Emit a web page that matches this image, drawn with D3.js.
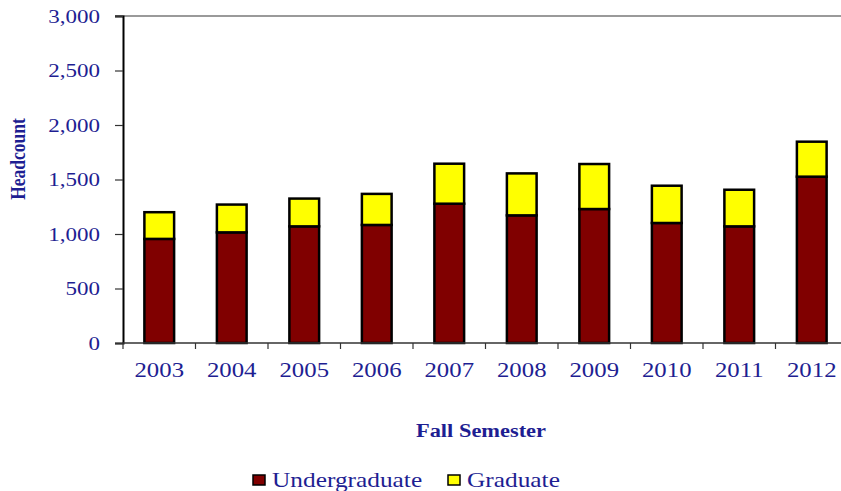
<!DOCTYPE html>
<html>
<head>
<meta charset="utf-8">
<script src="https://cdn.jsdelivr.net/npm/d3@7"></script>
<style>
    body { margin: 0; background: #fff; }
    svg { display: block; overflow: hidden; }
    text { font-family: "Liberation Serif", "Times New Roman", serif; fill: #1e1e92; }
    .stretch-end { transform-box: fill-box; transform-origin: right center; transform: scaleX(1.18); }
    .stretch-mid { transform-box: fill-box; transform-origin: center; transform: scaleX(1.18); }
    .stretch-start { transform-box: fill-box; transform-origin: left center; transform: scaleX(1.18); }
</style>
</head>
<body>
<div id="chart"></div>
<script>
// Fall semester headcount
const years = ["2003", "2004", "2005", "2006", "2007", "2008", "2009", "2010", "2011", "2012"];
const undergraduate = [955, 1015, 1070, 1083, 1278, 1171, 1229, 1101, 1070, 1526];
const graduate = [245, 255, 255, 285, 367, 385, 413, 342, 336, 321];
const seriesNames = ["Undergraduate", "Graduate"];
const seriesColors = ["#800000", "#ffff00"];
const yTicks = [0, 500, 1000, 1500, 2000, 2500, 3000];

const width = 841, height = 491;
const margin = { top: 16, left: 123, bottom: 148 };
const plotWidth = 725; // runs a little past the right edge, as in the original
const plotHeight = height - margin.top - margin.bottom;

const svg = d3.select("#chart").append("svg")
    .attr("width", width)
    .attr("height", height);

const x = d3.scaleBand()
    .domain(years)
    .range([margin.left, margin.left + plotWidth])
    .paddingInner(0.59)
    .paddingOuter(0.295);

const y = d3.scaleLinear()
    .domain([0, 3000])
    .range([margin.top + plotHeight, margin.top]);

// stack the two series
const rows = years.map((yr, i) => ({ year: yr, Undergraduate: undergraduate[i], Graduate: graduate[i] }));
const stacked = d3.stack().keys(seriesNames)(rows);

// top border of plot area
svg.append("line")
    .attr("x1", margin.left - 8).attr("x2", width)
    .attr("y1", y(3000)).attr("y2", y(3000))
    .attr("stroke", "#9a9a9a")
    .attr("stroke-width", 2);

// bars
svg.selectAll(".series")
    .data(stacked)
    .enter()
    .append("g")
    .attr("class", "series")
    .attr("fill", (d, i) => seriesColors[i])
    .selectAll("rect")
    .data(d => d)
    .enter()
    .append("rect")
    .attr("x", d => x(d.data.year))
    .attr("width", x.bandwidth())
    .attr("y", d => y(d[1]))
    .attr("height", d => y(d[0]) - y(d[1]))
    .attr("stroke", "#000")
    .attr("stroke-width", 2.5);

// y axis
const yAxis = svg.append("g")
    .attr("transform", `translate(${margin.left},0)`)
    .call(d3.axisLeft(y).tickValues(yTicks).tickFormat(d3.format(",")).tickSize(8).tickPadding(15));
yAxis.select(".domain").attr("stroke", "#000").attr("stroke-width", 2);
yAxis.selectAll(".tick line").attr("stroke", "#333").attr("stroke-width", 1.2);
yAxis.selectAll(".tick text")
    .attr("class", "stretch-end")
    .style("font-size", "19.5px")
    .attr("fill", "#1e1e92");

// x axis: labels at band centres, ticks between categories
const xAxis = svg.append("g")
    .attr("transform", `translate(0,${y(0)})`)
    .call(d3.axisBottom(x).tickSize(0).tickPadding(19));
xAxis.select(".domain").remove();
xAxis.selectAll(".tick text")
    .attr("class", "stretch-mid")
    .style("font-size", "21px")
    .attr("fill", "#1e1e92");

svg.append("line")
    .attr("x1", margin.left).attr("x2", width)
    .attr("y1", y(0)).attr("y2", y(0))
    .attr("stroke", "#333")
    .attr("stroke-width", 1.5);

const bounds = d3.range(years.length + 1).map(i => x.range()[0] + i * x.step());
svg.selectAll(".xtick")
    .data(bounds)
    .enter()
    .append("line")
    .attr("class", "xtick")
    .attr("x1", d => d).attr("x2", d => d)
    .attr("y1", y(0)).attr("y2", y(0) + 6)
    .attr("stroke", "#333")
    .attr("stroke-width", 1.2);

// axis titles
svg.append("text")
    .attr("transform", `translate(25,159) rotate(-90) scale(1,1.18)`)
    .attr("text-anchor", "middle")
    .style("font-size", "17.5px")
    .style("font-weight", "bold")
    .text("Headcount");

svg.append("text")
    .attr("class", "stretch-mid")
    .attr("x", 481)
    .attr("y", 437)
    .attr("text-anchor", "middle")
    .style("font-size", "19px")
    .style("font-weight", "bold")
    .text("Fall Semester");

// legend
const legendX = [253, 448];
const legend = svg.selectAll(".legend")
    .data(seriesNames)
    .enter()
    .append("g")
    .attr("class", "legend")
    .attr("transform", (d, i) => `translate(${legendX[i]},475)`);

legend.append("rect")
    .attr("width", 12)
    .attr("height", 10)
    .attr("fill", (d, i) => seriesColors[i])
    .attr("stroke", "#000")
    .attr("stroke-width", 1.5);

legend.append("text")
    .attr("class", "stretch-start")
    .attr("x", 19)
    .attr("y", 12)
    .style("font-size", "21.5px")
    .text(d => d);
</script>
</body>
</html>
